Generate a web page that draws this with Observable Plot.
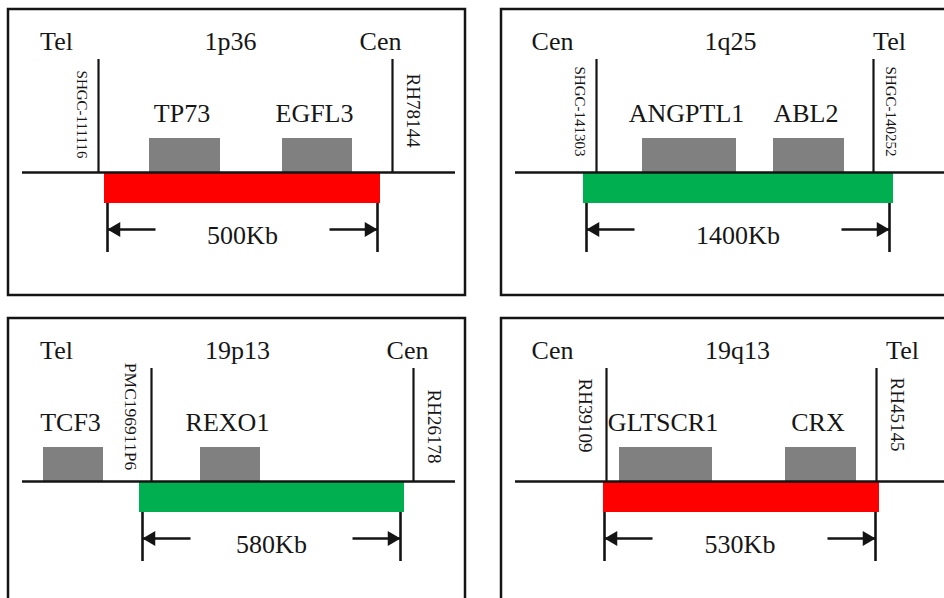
<!DOCTYPE html>
<html><head><meta charset="utf-8">
<script src="https://cdn.jsdelivr.net/npm/d3@7"></script>
<script src="https://cdn.jsdelivr.net/npm/@observablehq/plot@0.6"></script>
<style>html,body{margin:0;padding:0;background:#fff;overflow:hidden;} #chart{width:944px;height:598px;overflow:hidden;}</style>
</head><body><div id="chart"></div>
<script>
// ---- data ----
const bands = ["1p36","1q25","19p13","19q13"];
const leftEnds = ["Tel","Cen","Tel","Cen"];
const rightEnds = ["Cen","Tel","Cen","Tel"];
const spanLabels = ["500Kb","1400Kb","580Kb","530Kb"];
const regionType = ["loss","gain","gain","loss"];
const regionStart = [96,82,131,102];
const regionEnd = [372,392,396,378];
const spanStart = [99,85,134,103];
const spanEnd = [369,388,392,374];
const markerPanel = [0,0,1,1,2,2,3,3];
const markerSide = ["left","right","left","right","left","right","left","right"];
const markerNames = ["SHGC-111116","RH78144","SHGC-141303","SHGC-140252","PMC196911P6","RH26178","RH39109","RH45145"];
const markerPos = [90,384,95,372,143,405,105,375];
const genePanel = [0,0,1,1,2,2,3,3];
const geneNames = ["TP73","EGFL3","ANGPTL1","ABL2","TCF3","REXO1","GLTSCR1","CRX"];
const geneStart = [141,274,141,272,35,192,118,284];
const geneEnd = [212,344,235,343,95,252,211,355];

// ---- layout (diagram units) ----
const bandX = [222,229,229,236];
const leftEndX = [48,51,48,51];
const rightEndX = [372,388,399,401];
const markLabelY = [105,101,102,102,98,108,97,96];
const PW = 457, PH = 286;
const Y = {head:32.5, markTop:50, geneLabel:104.5, geneTop:129, chrom:163, barBottom:194, arrow:220, spanText:226, spanBottom:243};
const colDx = 493, rowDy = 309;
const ink = "#141414", txt = "#161616";
const font = "Liberation Serif";
const FS = 26;

const markers = markerNames.map((name,i)=>({name, panel:markerPanel[i], side:markerSide[i], pos:markerPos[i], ly:markLabelY[i]}));
const genes = geneNames.map((name,i)=>({name, panel:genePanel[i], start:geneStart[i], end:geneEnd[i]}));

const markFont = n => n.startsWith("SHGC") ? 15 : n.startsWith("PMC") ? 17.5 : 19;

const marks = [];
bands.forEach((band,p)=>{
  const o = {dx:(p%2)*colDx, dy:Math.floor(p/2)*rowDy};
  const right = p%2===1;
  // frame
  marks.push(Plot.rect([{}], {x1:0, x2:PW, y1:0, y2:PH, fill:"none", stroke:ink, strokeWidth:2.5, ...o}));
  // region bar
  marks.push(Plot.rect([{s:regionStart[p], e:regionEnd[p], t:regionType[p]}], {x1:"s", x2:"e", y1:Y.chrom, y2:Y.barBottom, fill:"t", ...o}));
  // genes
  const g = genes.filter(d=>d.panel===p);
  marks.push(Plot.rect(g, {x1:"start", x2:"end", y1:Y.geneTop, y2:Y.chrom, fill:"#808080", ...o}));
  marks.push(Plot.text(g, {x:d=>(d.start+d.end)/2-3, y:Y.geneLabel, text:"name", fontSize:FS, fill:txt, fontFamily:font, ...o}));
  // chromosome line
  marks.push(Plot.ruleY([Y.chrom], {x1:14, x2: right ? PW+20 : 447, stroke:ink, strokeWidth:2.5, ...o}));
  // markers
  const m = markers.filter(d=>d.panel===p);
  marks.push(Plot.ruleX(m, {x:"pos", y1:Y.markTop, y2:Y.chrom, stroke:ink, strokeWidth:2.2, ...o}));
  marks.push(Plot.text(m, {
    x:d=>{const off = d.name.startsWith("SHGC")?17:21; return d.side==="left" ? d.pos-off : d.pos+off;},
    y:"ly", text:"name", rotate:90,
    fontSize:d=>markFont(d.name), fill:txt, fontFamily:font, ...o}));
  // header
  marks.push(Plot.text([leftEnds[p]], {x:leftEndX[p], y:Y.head, text:d=>d, fontSize:FS, fill:txt, fontFamily:font, ...o}));
  marks.push(Plot.text([band], {x:bandX[p], y:Y.head, text:d=>d, fontSize:FS, fill:txt, fontFamily:font, ...o}));
  marks.push(Plot.text([rightEnds[p]], {x:rightEndX[p], y:Y.head, text:d=>d, fontSize:FS, fill:txt, fontFamily:font, ...o}));
  // span dimension
  const s = spanStart[p], e = spanEnd[p];
  marks.push(Plot.ruleX([s,e], {y1:Y.barBottom, y2:Y.spanBottom, stroke:ink, strokeWidth:2.6, ...o}));
  marks.push(Plot.link([{a:s, b:s+48},{a:e-48, b:e}], {x1:"a", x2:"b", y1:Y.arrow, y2:Y.arrow, stroke:ink, strokeWidth:2.4, ...o}));
  marks.push(Plot.dot([{x:s+8.5, r:-90},{x:e-8.5, r:90}], {x:"x", y:Y.arrow, symbol:"triangle", r:5.5, rotate:"r", fill:ink, stroke:"none", ...o}));
  marks.push(Plot.text([spanLabels[p]], {x:(s+e)/2, y:Y.spanText, text:d=>d, fontSize:FS, fill:txt, fontFamily:font, ...o}));
});

const chart = Plot.plot({
  width:944, height:598, margin:0,
  x:{domain:[0,PW], range:[8,8+PW], axis:null},
  y:{domain:[0,PH], range:[9,9+PH], axis:null},
  color:{domain:["loss","gain"], range:["#ff0000","#00b050"]},
  style:{fontFamily:font, background:"#fff", overflow:"hidden"},
  marks
});
document.getElementById("chart").appendChild(chart);
</script>
</body></html>
